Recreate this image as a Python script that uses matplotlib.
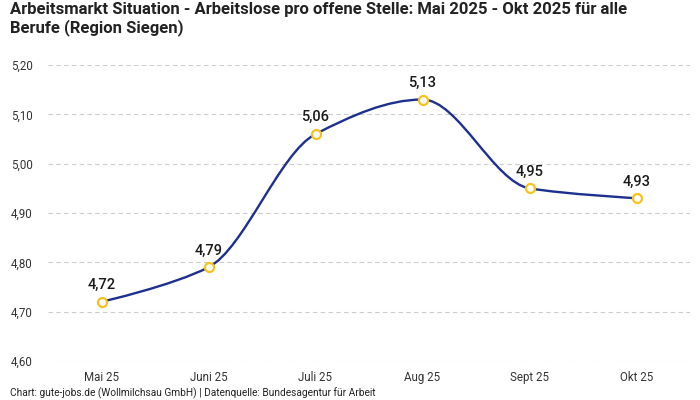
import numpy as np
import matplotlib.pyplot as plt
from matplotlib.path import Path
from matplotlib.patches import PathPatch
from matplotlib.ticker import FuncFormatter

plt.rcParams['font.family'] = ['Roboto', 'DejaVu Sans']

monate = ["Mai 25", "Juni 25", "Juli 25", "Aug 25", "Sept 25", "Okt 25"]
werte = [4.72, 4.79, 5.06, 5.13, 4.95, 4.93]
y_ticks = [4.60, 4.70, 4.80, 4.90, 5.00, 5.10, 5.20]

line_col = "#1d2f8f"
dot_col = "#f7c21b"


def monotone_path(x, y):
    # monotone kubische Kurve als Bezier-Pfad
    x = np.asarray(x, float)
    y = np.asarray(y, float)
    d = np.diff(y) / np.diff(x)
    m = np.zeros(len(y))
    for i in range(1, len(y) - 1):
        if d[i - 1] * d[i] > 0:
            m[i] = 2 * d[i - 1] * d[i] / (d[i - 1] + d[i])
    verts = [(x[0], y[0])]
    codes = [Path.MOVETO]
    for i in range(len(x) - 1):
        h = x[i + 1] - x[i]
        if i == 0:
            c1 = (x[i], y[i])
        else:
            c1 = (x[i] + h / 3, y[i] + m[i] * h / 3)
        if i == len(x) - 2:
            c2 = (x[i + 1], y[i + 1])
        else:
            c2 = (x[i + 1] - h / 3, y[i + 1] - m[i + 1] * h / 3)
        verts += [c1, c2, (x[i + 1], y[i + 1])]
        codes += [Path.CURVE4] * 3
    return Path(verts, codes)


fig = plt.figure(figsize=(7, 4), dpi=100)
ax = fig.add_axes([48 / 700, 1 - 361 / 400, 642 / 700, 296 / 400])

xs = np.arange(len(monate))
ax.add_patch(PathPatch(monotone_path(xs, werte), fill=False,
                       edgecolor=line_col, lw=1.7, zorder=3))
ax.scatter(xs, werte, s=42, facecolor="white", edgecolor=dot_col,
           linewidth=1.6, zorder=4)
for xi, v in zip(xs, werte):
    ax.annotate(f"{v:.2f}".replace(".", ","), (xi, v), xytext=(0, 7),
                textcoords="offset points", ha="center", va="bottom",
                fontsize=10.5, fontweight="medium", color="#1a1a1a")

ax.set_xlim(-0.5, len(monate) - 0.5)
ax.set_ylim(y_ticks[0], y_ticks[-1])
ax.set_yticks(y_ticks)
ax.yaxis.set_major_formatter(FuncFormatter(lambda v, p: f"{v:.2f}".replace(".", ",")))
ax.set_xticks(xs)
ax.set_xticklabels(monate)
ax.tick_params(axis="both", length=0, labelsize=8.3, colors="#333333")
ax.tick_params(axis="x", pad=7.5)
ax.tick_params(axis="y", pad=11)
ax.grid(axis="y", color="#cccccc", linestyle=(0, (4, 3)), lw=0.8)
ax.set_axisbelow(True)
for s in ax.spines.values():
    s.set_visible(False)

fig.text(10 / 700, 1 - 2 / 400,
         "Arbeitsmarkt Situation - Arbeitslose pro offene Stelle: Mai 2025 - Okt 2025 für alle\nBerufe (Region Siegen)",
         ha="left", va="top", fontsize=12, fontweight="bold", color="#222222",
         linespacing=1.15)
fig.text(10 / 700, 1 - 393 / 400,
         "Chart: gute-jobs.de (Wollmilchsau GmbH) | Datenquelle: Bundesagentur für Arbeit",
         ha="left", va="center", fontsize=7.3, color="#222222")

fig.savefig("out.png", dpi=100)
